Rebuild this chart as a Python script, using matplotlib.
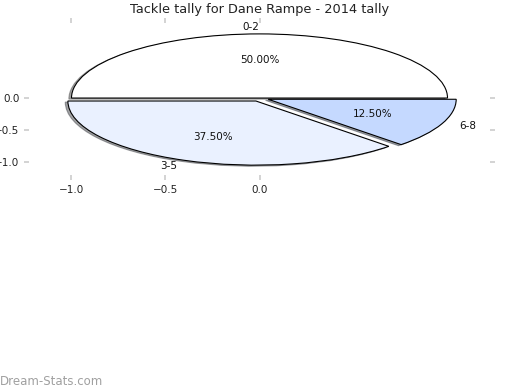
import matplotlib
matplotlib.use("Agg")
import matplotlib.pyplot as plt

categories = ["0-2", "3-5", "6-8"]
values = [4, 3, 1]
explode = [0.0, 0.05, 0.05]
colors = ["#ffffff", "#eaf1ff", "#c5d9ff"]
xticks = [-1.0, -0.5, 0.0]
yticks = [0.0, -0.5, -1.0]
title = "Tackle tally for Dane Rampe - 2014 tally"
watermark = "Dream-Stats.com"

fig = plt.figure(figsize=(5.2, 3.9), dpi=100)
ax = fig.add_axes([29 / 520, 1 - 175 / 390, (490 - 29) / 520, (175 - 23) / 390])

wedges, texts, autotexts = ax.pie(
    values, labels=categories, explode=explode, colors=colors,
    autopct="%1.2f%%", shadow={"ox": -0.01, "oy": -0.012}, startangle=0, frame=True,
    wedgeprops=dict(edgecolor="black", linewidth=0.8),
    textprops=dict(fontsize=7.5, color="#111111"),
)
ax.set_aspect("auto")
ax.set_xlim(-1.226, 1.226)
ax.set_ylim(-1.20, 1.17)
ax.set_xticks(xticks)
ax.set_yticks(yticks)
for s in ax.spines.values():
    s.set_visible(False)
ax.tick_params(axis="both", which="both", direction="out", length=3.5, width=1.2,
               color="#cccccc", labelsize=7.5, labelcolor="#222222",
               top=True, right=True, labeltop=False, labelright=False)
ax.set_title(title, fontsize=9.3, color="#222222", pad=7)
fig.text(0.0, 0.006, watermark, fontsize=8.5, color="#a0a0a0", ha="left", va="bottom")

fig.savefig("out.png", dpi=100)
